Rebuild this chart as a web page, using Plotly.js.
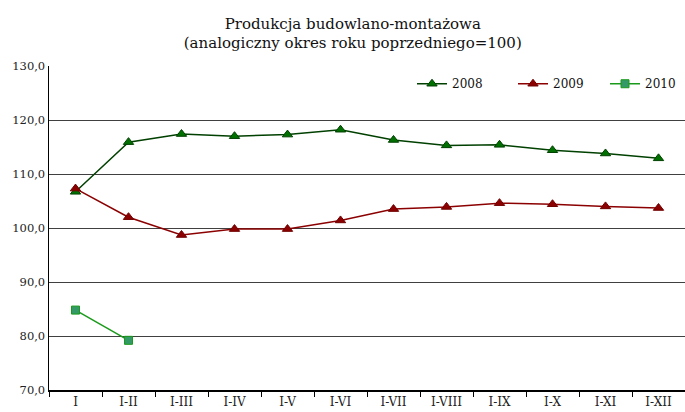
<!DOCTYPE html>
<html><head><meta charset="utf-8">
<script src="https://cdn.plot.ly/plotly-3.0.1.min.js"></script>
<style>html,body{margin:0;padding:0;background:#fff}#chart{width:685px;height:412px}</style>
</head><body><div id="chart"></div>
<script>
const categories = ["I","I-II","I-III","I-IV","I-V","I-VI","I-VII","I-VIII","I-IX","I-X","I-XI","I-XII"];
const values2008 = [106.7,115.9,117.4,117.0,117.3,118.2,116.3,115.3,115.4,114.4,113.8,112.9];
const values2009 = [107.3,102.0,98.7,99.8,99.8,101.4,103.5,103.9,104.6,104.4,104.0,103.7];
const values2010 = [84.8,79.2];
const seriesNames = ["2008","2009","2010"];

const font = "'DejaVu Serif', serif";
const traces = [
  {x: categories, y: values2008, name: seriesNames[0], type: "scatter", mode: "lines+markers", legend: "legend",
   line: {color: "#004000", width: 1.5},
   marker: {symbol: "triangle-up", size: 9, color: "#007000", line: {color: "#004000", width: 1}}},
  {x: categories, y: values2009, name: seriesNames[1], type: "scatter", mode: "lines+markers", legend: "legend2",
   line: {color: "#8b0000", width: 1.5},
   marker: {symbol: "triangle-up", size: 9, color: "#8b0000", line: {color: "#700000", width: 1}}},
  {x: categories.slice(0, values2010.length), y: values2010, name: seriesNames[2], type: "scatter", mode: "lines+markers", legend: "legend3",
   line: {color: "#1a9a1a", width: 1.5},
   marker: {symbol: "square", size: 8, color: "#339966", line: {color: "#1a9a1a", width: 1}}}
];
function leg(px) {
  return {orientation: "h", x: (px - 49) / 636, xanchor: "left", y: 0.99, yanchor: "top",
          font: {family: font, size: 12, color: "#111"}, bgcolor: "rgba(0,0,0,0)", itemwidth: 30};
}
const layout = {
  width: 685, height: 412,
  margin: {l: 49, r: 0, t: 66, b: 22},
  paper_bgcolor: "#fff", plot_bgcolor: "#fff",
  separators: ", ",
  font: {family: font, size: 11, color: "#222"},
  title: {text: "Produkcja budowlano-montażowa<br>(analogiczny okres roku poprzedniego=100)",
          font: {family: font, size: 15, color: "#111"}, x: 0.515, xanchor: "center", y: 0.93, yanchor: "top"},
  showlegend: true,
  legend: leg(412), legend2: leg(513), legend3: leg(605),
  xaxis: {type: "category", tickson: "boundaries", ticks: "outside", ticklen: 5, tickcolor: "#000",
          showline: true, linecolor: "#000", linewidth: 2, showgrid: false, zeroline: false,
          tickfont: {family: font, size: 12, color: "#222"}, range: [-0.5, 11.5]},
  yaxis: {range: [70, 130], dtick: 10, tickformat: ".1f", showline: true, linecolor: "#000", linewidth: 1.5,
          gridcolor: "#404040", gridwidth: 1, zeroline: false, ticks: "", ticklen: 0,
          tickfont: {family: font, size: 11.5, color: "#222"}}
};
Plotly.newPlot("chart", traces, layout, {displayModeBar: false, staticPlot: true});
</script></body></html>
